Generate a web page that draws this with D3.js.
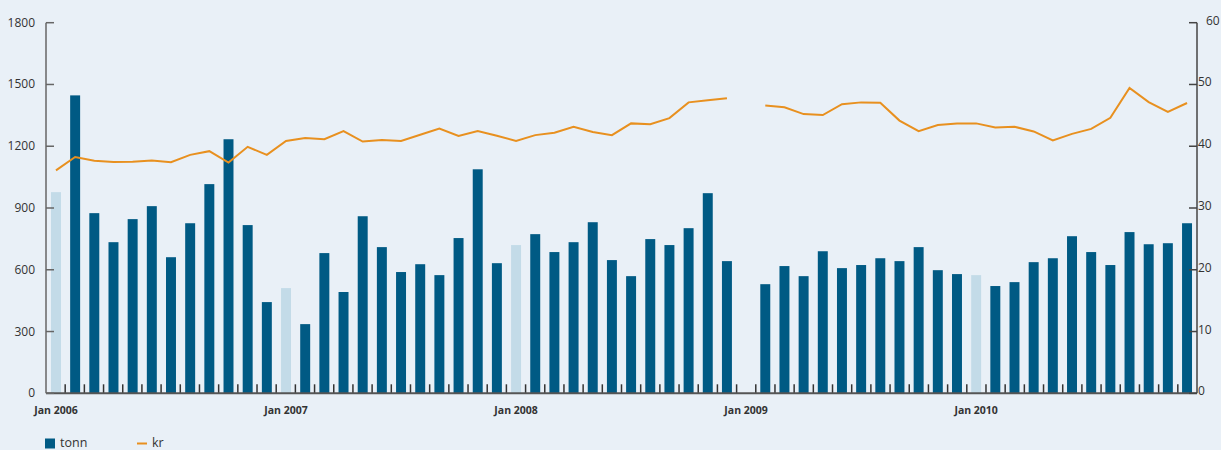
<!DOCTYPE html>
<html>
<head>
<meta charset="utf-8">
<script src="https://cdn.jsdelivr.net/npm/d3@7"></script>
<style>
  body { margin: 0; background: #e9f0f7; }
  svg { display: block; }
  text { font-family: "Open Sans", "DejaVu Sans", sans-serif; fill: #333; }
</style>
</head>
<body>
<div id="chart"></div>
<script>
// months Jan 2006 .. Dec 2010, Jan 2009 has no data
const months = d3.range(60).map(i => new Date(2006, i, 1));
const tonn = [
  977, 1447, 875, 734, 846, 909, 661, 826, 1016, 1234, 817, 443,
  511, 336, 681, 492, 860, 710, 589, 627, 574, 754, 1088, 632,
  720, 773, 686, 734, 831, 647, 569, 749, 720, 802, 972, 642,
  null, 530, 618, 569, 690, 608, 623, 656, 642, 710, 598, 579,
  574, 521, 540, 637, 656, 763, 686, 623, 783, 724, 729, 826
];
const kr = [
  36.1, 38.25, 37.65, 37.45, 37.5, 37.7, 37.4, 38.6, 39.2, 37.35, 39.9, 38.6,
  40.85, 41.35, 41.15, 42.45, 40.75, 41.0, 40.85, 41.85, 42.85, 41.65, 42.45, 41.7,
  40.85, 41.8, 42.2, 43.15, 42.3, 41.8, 43.7, 43.55, 44.55, 47.1, 47.45, 47.75,
  null, 46.6, 46.3, 45.2, 45.05, 46.8, 47.1, 47.05, 44.15, 42.45, 43.45, 43.7,
  43.7, 43.05, 43.15, 42.4, 40.95, 42.0, 42.8, 44.6, 49.45, 47.15, 45.55, 47.0
];
const leftTicks = [0, 300, 600, 900, 1200, 1500, 1800];
const rightTicks = [0, 10, 20, 30, 40, 50, 60];
const yearLabels = ["Jan 2006", "Jan 2007", "Jan 2008", "Jan 2009", "Jan 2010"];

const width = 1221, height = 450;
const x0 = 46, x1 = 1197, yTop = 22.7, yBase = 393.3;

const svg = d3.select("#chart").append("svg")
  .attr("width", width).attr("height", height);

svg.append("rect").attr("width", width).attr("height", height).attr("fill", "#e9f0f7");

const x = d3.scaleBand().domain(d3.range(60)).range([x0, x1]).paddingInner(0.48).paddingOuter(0.26);
const yL = d3.scaleLinear().domain([0, 1800]).range([yBase, yTop]);
const yR = d3.scaleLinear().domain([0, 60]).range([yBase, yTop]);
const step = (x1 - x0) / 60;

// bars
svg.selectAll(".bar")
  .data(tonn.map((v, i) => ({ v, i })).filter(d => d.v != null))
  .enter()
  .append("rect")
  .attr("class", "bar")
  .attr("x", d => x(d.i))
  .attr("y", d => yL(d.v))
  .attr("width", x.bandwidth())
  .attr("height", d => yBase - yL(d.v))
  .attr("fill", d => months[d.i].getMonth() === 0 ? "#c3dbe8" : "#005a84");

// month ticks on the base line
svg.selectAll(".mtick")
  .data(d3.range(1, 60))
  .enter()
  .append("line")
  .attr("x1", d => x0 + d * step).attr("x2", d => x0 + d * step)
  .attr("y1", yBase - 9).attr("y2", yBase)
  .attr("stroke", "#333").attr("stroke-width", 1.5);

// base line
svg.append("line")
  .attr("x1", x0).attr("x2", x1).attr("y1", yBase).attr("y2", yBase)
  .attr("stroke", "#555").attr("stroke-width", 2);

// kr line
const line = d3.line()
  .defined(d => d != null)
  .x((d, i) => x(i) + x.bandwidth() / 2)
  .y(d => yR(d));

svg.append("path")
  .datum(kr)
  .attr("fill", "none")
  .attr("stroke", "#e8901f")
  .attr("stroke-width", 2)
  .attr("d", line);

// left axis
const left = svg.append("g");
left.append("line").attr("x1", x0).attr("x2", x0).attr("y1", yTop).attr("y2", yBase)
  .attr("stroke", "#666").attr("stroke-width", 1.5);
left.selectAll(".lt").data(leftTicks).enter().append("line")
  .attr("x1", x0).attr("x2", x0 + 8)
  .attr("y1", d => yL(d)).attr("y2", d => yL(d))
  .attr("stroke", "#666").attr("stroke-width", 1.5);
left.selectAll(".ll").data(leftTicks).enter().append("text")
  .attr("x", 35).attr("y", d => yL(d) + 4)
  .attr("text-anchor", "end")
  .style("font-size", "12px")
  .text(d => d);

// right axis
const right = svg.append("g");
right.append("line").attr("x1", x1).attr("x2", x1).attr("y1", yTop).attr("y2", yBase)
  .attr("stroke", "#444").attr("stroke-width", 1.5);
right.selectAll(".rt").data(rightTicks).enter().append("line")
  .attr("x1", x1 - 8).attr("x2", x1)
  .attr("y1", d => yR(d)).attr("y2", d => yR(d))
  .attr("stroke", "#444").attr("stroke-width", 1.5);
right.selectAll(".rl").data(rightTicks).enter().append("text")
  .attr("x", d => d === 60 ? 1206 : 1198).attr("y", d => yR(d) + 2)
  .style("font-size", "12px")
  .text(d => d);

// year labels
svg.selectAll(".yl")
  .data(yearLabels)
  .enter()
  .append("text")
  .attr("x", (d, i) => x(i * 12) + x.bandwidth() / 2)
  .attr("y", 414)
  .attr("text-anchor", "middle")
  .style("font-size", "10.5px")
  .style("font-weight", "bold")
  .style("font-family", "'Liberation Sans Narrow', 'Open Sans', sans-serif")
  .text(d => d);

// legend
const legend = svg.append("g");
legend.append("rect").attr("x", 45).attr("y", 438.5).attr("width", 10).attr("height", 10).attr("fill", "#005a84");
legend.append("text").attr("x", 60).attr("y", 447).style("font-size", "12.5px").text("tonn");
legend.append("line").attr("x1", 137).attr("x2", 147).attr("y1", 443.5).attr("y2", 443.5)
  .attr("stroke", "#e8901f").attr("stroke-width", 2);
legend.append("text").attr("x", 152).attr("y", 447).style("font-size", "12.5px").text("kr");
</script>
</body>
</html>
